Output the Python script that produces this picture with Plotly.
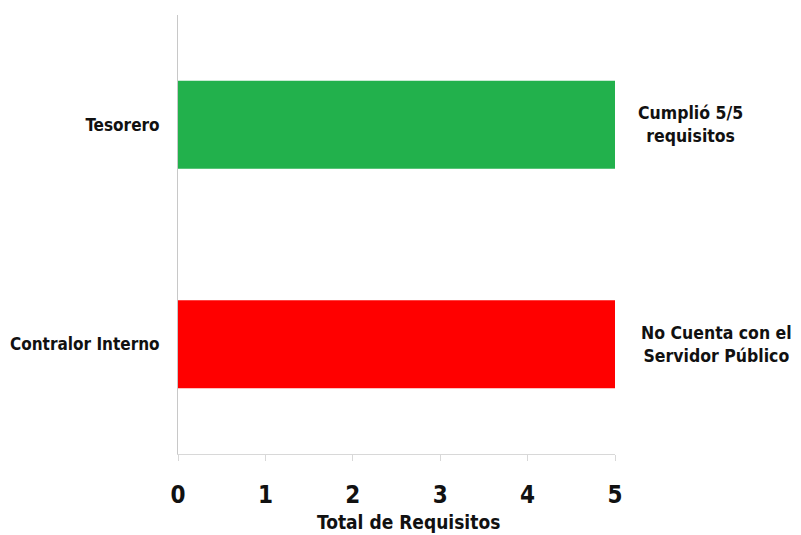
import plotly.graph_objects as go

categories = ["Contralor Interno", "Tesorero"]
values = [5, 5]
colors = ["#FF0000", "#22B14C"]
notes = ["No Cuenta con el<br>Servidor Público", "Cumplió 5/5<br>requisitos"]
tick_vals = [0, 1, 2, 3, 4, 5]
x_title = "Total de Requisitos"

FONT = "Liberation Sans Narrow, Arial Narrow, DejaVu Sans Condensed, Arial, sans-serif"

fig = go.Figure(go.Bar(
    y=categories, x=values, orientation="h",
    marker=dict(color=colors, line=dict(width=0)),
    width=0.4,
))

for cat, note, xc in zip(categories, notes, [716, 690]):
    fig.add_annotation(
        x=1.0, xref="paper", xshift=xc - 615, y=cat, yref="y",
        text=note, showarrow=False, xanchor="center",
        font=dict(family=FONT, size=17.5, color="#111", weight="bold"), align="center",
    )

fig.add_annotation(
    x=0.5, xref="paper", xshift=12, y=0, yref="paper", yshift=-68,
    text=x_title, showarrow=False, xanchor="center", yanchor="middle",
    font=dict(family=FONT, size=19, color="#111", weight="bold"),
)

fig.update_layout(
    width=793, height=527,
    margin=dict(l=170, r=186, t=7, b=81),
    plot_bgcolor="white", paper_bgcolor="white",
    showlegend=False,
    font=dict(family=FONT, color="#111"),
    xaxis=dict(
        range=[0, 5], tickvals=tick_vals, showgrid=False, zeroline=False,
        showline=True, linecolor="#d8d8d8", linewidth=1,
        ticks="outside", ticklen=6, tickcolor="#d8d8d8",
        ticklabelstandoff=13, automargin=False,
        tickfont=dict(family=FONT, size=24, color="#111", weight="bold"),
    ),
    yaxis=dict(
        range=[-0.5, 1.5], showgrid=False, zeroline=False,
        showline=True, linecolor="#c8c8c8", linewidth=1,
        ticks="", ticklabelstandoff=14, automargin=False,
        tickfont=dict(family=FONT, size=17, color="#111", weight="bold"),
    ),
)

fig.write_html("out.html")
